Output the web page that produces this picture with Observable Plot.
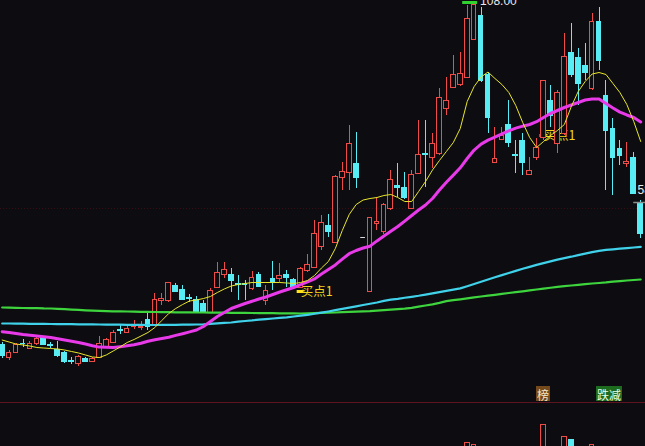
<!DOCTYPE html>
<html>
<head>
<meta charset="utf-8">
<script src="https://cdn.jsdelivr.net/npm/d3@7"></script>
<script src="https://cdn.jsdelivr.net/npm/@observablehq/plot@0.6"></script>
<style>
  html, body { margin: 0; padding: 0; background: #0d0d11; overflow: hidden; }
  #wrap { position: relative; width: 645px; height: 446px; overflow: hidden; background: #0d0d11; }
  #wrap svg { display: block; }
  #vol { border-top: 1px solid #5c1420; }
  .tag { position: absolute; top: 386px; height: 15px; line-height: 15px; padding: 0 1px;
         font: 12px "Noto Sans CJK SC", sans-serif; white-space: nowrap; }
</style>
</head>
<body>
<div id="wrap"></div>
<script>
// Daily OHLC prices, one entry per trading day (oldest first)
const opens = [22.5, 19.25, 20.5, 22.75, 21.5, 22.75, 24.25, 22.38, 21.25, 20.5, 18.38, 17.75, 19.0, 18.25, 19.25, 21.75, 23.0, 26.12, 25.5, 26.88, 26.75, 28.75, 27.25, 33.5, 33.5, 37.25, 36.25, 34.12, 33.75, 32.75, 30.5, 36.75, 40.0, 40.0, 37.62, 37.75, 36.5, 40.0, 33.5, 39.0, 39.0, 40.0, 38.75, 36.75, 41.0, 41.75, 47.0, 52.25, 48.0, 64.25, 65.5, 67.75, 49.25, 35.75, 52.75, 50.75, 56.5, 62.25, 61.75, 56.5, 65.25, 70.25, 69.25, 70.25, 81.5, 86.75, 87.5, 89.25, 98.75, 104.75, 90.0, 68.0, 73.75, 77.5, 69.88, 73.5, 65.0, 69.25, 74.25, 83.5, 72.75, 75.25, 95.5, 94.25, 92.25, 86.5, 103.25, 84.75, 76.5, 71.5, 67.75, 69.25, 58.0];
const closes = [19.75, 20.5, 22.5, 22.62, 22.75, 24.0, 22.5, 22.12, 19.75, 18.25, 18.12, 19.5, 18.25, 19.0, 22.75, 23.75, 25.5, 25.88, 26.5, 27.12, 27.0, 27.0, 33.75, 34.0, 38.0, 35.75, 33.75, 33.88, 30.75, 30.75, 36.0, 40.5, 41.25, 38.5, 37.38, 37.5, 39.25, 37.0, 36.0, 38.25, 39.75, 39.25, 37.0, 41.5, 42.5, 50.25, 53.0, 50.75, 64.5, 65.75, 72.75, 64.25, 49.25, 54.25, 53.25, 57.5, 63.75, 61.75, 59.25, 65.0, 70.0, 70.0, 72.75, 84.25, 83.5, 90.0, 90.25, 104.0, 107.5, 88.5, 79.25, 69.0, 74.75, 73.0, 69.62, 68.0, 66.0, 71.75, 88.5, 79.75, 85.5, 94.5, 90.0, 87.75, 90.5, 103.25, 93.5, 76.0, 69.25, 69.75, 68.25, 60.25, 50.25];
const highs = [23.0, 21.0, 22.75, 23.75, 23.25, 24.25, 24.5, 23.0, 23.25, 20.75, 19.25, 19.75, 19.25, 19.25, 24.5, 24.0, 26.0, 27.25, 27.0, 28.5, 28.25, 30.25, 35.25, 35.25, 38.0, 37.75, 37.25, 35.0, 34.5, 33.5, 36.5, 43.0, 43.0, 41.5, 39.75, 38.5, 40.75, 40.5, 37.25, 43.25, 42.75, 41.0, 39.0, 41.75, 45.0, 53.5, 54.75, 55.0, 64.75, 68.0, 77.25, 75.5, 49.25, 54.25, 59.25, 57.75, 66.0, 67.75, 65.5, 66.0, 78.5, 78.5, 75.25, 86.5, 89.25, 94.75, 95.5, 107.25, 108.0, 106.75, 90.5, 76.75, 76.75, 83.5, 73.5, 75.25, 69.25, 74.0, 88.5, 87.25, 86.0, 100.25, 102.75, 96.5, 97.75, 105.25, 106.75, 88.5, 79.0, 73.5, 73.0, 70.5, 58.5];
const lows = [19.0, 18.5, 20.25, 21.75, 21.25, 22.25, 22.25, 21.5, 19.25, 17.75, 17.5, 17.0, 18.0, 18.0, 19.0, 21.5, 22.75, 25.0, 25.25, 26.25, 26.0, 26.0, 27.0, 32.25, 33.0, 35.5, 33.5, 33.0, 30.5, 30.25, 30.25, 36.5, 39.0, 35.5, 33.5, 33.5, 36.0, 36.75, 32.25, 36.0, 38.0, 36.75, 36.75, 36.5, 40.5, 41.5, 46.0, 49.25, 47.75, 61.0, 61.0, 61.5, 49.25, 35.75, 51.0, 50.0, 56.0, 59.25, 58.75, 56.25, 65.0, 61.75, 66.5, 69.75, 79.75, 86.5, 87.0, 89.0, 98.5, 88.0, 75.25, 68.0, 73.5, 71.75, 65.25, 64.75, 64.75, 68.5, 73.5, 76.75, 70.25, 74.75, 89.25, 82.25, 88.5, 86.0, 91.0, 61.0, 59.75, 67.25, 66.75, 60.25, 49.0];

// Moving averages (short, medium, long, longest), one value per day
const maShort = [23.62, 23.12, 22.62, 22.38, 22.12, 21.75, 21.62, 21.5, 21.38, 21.12, 20.75, 20.38, 19.88, 19.38, 19.25, 19.88, 20.88, 21.88, 23.0, 23.75, 24.62, 25.5, 26.75, 28.5, 30.25, 31.5, 32.5, 33.38, 33.62, 34.0, 34.5, 35.5, 36.38, 37.12, 37.5, 37.75, 38.0, 38.0, 38.0, 38.0, 38.0, 37.88, 37.75, 38.0, 38.5, 39.75, 41.62, 43.25, 46.5, 51.0, 55.0, 57.5, 58.62, 59.0, 59.25, 59.75, 60.0, 59.25, 58.25, 58.25, 60.75, 63.25, 66.12, 68.5, 70.75, 73.0, 76.5, 83.25, 87.0, 89.38, 90.62, 89.0, 87.5, 85.5, 82.25, 78.0, 74.25, 71.75, 73.25, 74.75, 76.0, 77.5, 82.0, 85.75, 88.25, 90.12, 90.5, 90.0, 87.75, 85.5, 82.5, 78.25, 73.25];
const maMid = [25.7, 25.5, 25.25, 25.0, 24.82, 24.65, 24.45, 24.25, 23.92, 23.62, 23.32, 23.0, 22.62, 22.2, 21.85, 21.8, 21.75, 21.95, 22.18, 22.42, 22.82, 23.3, 23.7, 24.0, 24.32, 24.78, 25.2, 25.65, 26.12, 27.0, 28.25, 29.5, 30.5, 31.5, 32.12, 32.75, 33.3, 33.88, 34.38, 35.0, 35.62, 36.18, 36.75, 37.45, 38.15, 38.9, 40.12, 41.25, 42.4, 43.85, 45.2, 46.0, 46.62, 47.08, 48.4, 49.6, 50.8, 52.0, 53.35, 54.75, 56.12, 57.38, 59.0, 61.12, 63.05, 64.85, 66.68, 69.0, 71.12, 72.6, 73.58, 74.35, 75.15, 75.88, 76.58, 77.08, 77.5, 78.2, 79.25, 80.25, 81.0, 81.75, 82.38, 83.0, 83.62, 83.88, 83.88, 82.75, 81.62, 80.6, 79.88, 79.25, 78.12];
const maLong = [27.75, 27.75, 27.72, 27.7, 27.68, 27.68, 27.65, 27.62, 27.6, 27.6, 27.58, 27.55, 27.55, 27.52, 27.5, 27.48, 27.48, 27.45, 27.42, 27.42, 27.4, 27.38, 27.38, 27.4, 27.42, 27.42, 27.45, 27.48, 27.5, 27.55, 27.68, 27.78, 27.9, 28.0, 28.2, 28.38, 28.52, 28.7, 28.85, 29.0, 29.15, 29.3, 29.5, 29.7, 29.9, 30.18, 30.45, 30.75, 31.08, 31.4, 31.72, 32.05, 32.38, 32.68, 33.0, 33.4, 33.7, 33.92, 34.18, 34.42, 34.68, 34.98, 35.28, 35.58, 35.9, 36.2, 36.52, 37.05, 37.62, 38.18, 38.75, 39.3, 39.85, 40.38, 40.9, 41.42, 41.92, 42.42, 42.85, 43.28, 43.72, 44.1, 44.45, 44.85, 45.22, 45.6, 45.92, 46.15, 46.3, 46.45, 46.6, 46.75, 46.9];
const maLongest = [31.75, 31.72, 31.68, 31.62, 31.6, 31.58, 31.52, 31.5, 31.4, 31.32, 31.22, 31.15, 31.05, 30.98, 30.9, 30.85, 30.8, 30.78, 30.75, 30.7, 30.68, 30.65, 30.62, 30.6, 30.58, 30.55, 30.55, 30.52, 30.5, 30.5, 30.48, 30.45, 30.45, 30.42, 30.4, 30.4, 30.38, 30.35, 30.32, 30.32, 30.3, 30.28, 30.28, 30.25, 30.3, 30.35, 30.4, 30.45, 30.5, 30.58, 30.65, 30.7, 30.78, 30.85, 30.98, 31.08, 31.2, 31.32, 31.45, 31.65, 31.95, 32.25, 32.55, 32.9, 33.35, 33.58, 33.8, 34.05, 34.3, 34.5, 34.72, 34.92, 35.15, 35.38, 35.58, 35.8, 36.02, 36.25, 36.48, 36.68, 36.9, 37.08, 37.25, 37.4, 37.58, 37.75, 37.88, 38.02, 38.2, 38.35, 38.5, 38.62, 38.75];

// Buy signals: day index and signal price
const buyDays = [43, 78];
const buyPrices = [35.75, 74.75];
const buyLabel = "买点1";

// Volume (10k lots) for the heaviest days
const volDays = [67, 68, 78, 81, 82, 85];
const volValues = [72.1, 70.7, 85.0, 76.4, 73.6, 70.7];

// Event tags shown along the bottom of the price panel
const eventDays = [78, 87.5];
const eventTexts = ["榜", "跌减"];
const eventFills = ["#74491b", "#1d6b1f"];
const eventInks = ["#f6e7c6", "#e6ffe4"];

const BG = "#0d0d11", RED = "#ee4b49", CYAN = "#58edf4", FLAT = "#dcdcdc";
const N = opens.length;
const candles = d3.range(N).map(i => ({i, open: opens[i], close: closes[i], high: highs[i], low: lows[i]}));
const tone = d => d.close > d.open ? RED : d.close < d.open ? CYAN : FLAT;
const bodies = candles.filter(d => d.open !== d.close);
const flats = candles.filter(d => d.open === d.close);
const buys = buyDays.map((i, k) => ({i, price: buyPrices[k]}));
const hi = d3.maxIndex(highs);
const last = N - 1;
const HALF = 0.34;
const xScale = {domain: [0, N - 1], range: [1.7, 640.2], axis: null};

const line = (values, stroke, strokeWidth) =>
  Plot.line(values, {x: (d, i) => i, y: d => d, stroke, strokeWidth, curve: "linear"});

const price = Plot.plot({
  width: 645, height: 402, margin: 0,
  style: {background: "transparent"},
  x: xScale,
  y: {domain: [8, 108.5], range: [402, 0], axis: null},
  color: {type: "identity"},
  marks: [
    Plot.ruleY([56.5], {stroke: "#3a0d14", strokeDasharray: "1,2"}),
    // buy signal markers sit underneath the candles
    Plot.ruleY(buys, {y: "price", x1: d => d.i - 0.5, x2: d => d.i + 0.5, stroke: "#ffe31a", strokeWidth: 3}),
    Plot.text(buys, {x: "i", y: "price", text: () => buyLabel, textAnchor: "start", lineAnchor: "middle",
      fill: "#f2d51c", fontSize: 12.5, fontFamily: "Noto Sans CJK SC"}),
    // wicks, then bodies (up days hollow, down days filled)
    Plot.ruleX(candles, {x: "i", y1: "low", y2: "high", stroke: tone, strokeWidth: 1, shapeRendering: "crispEdges"}),
    Plot.rect(bodies, {x1: d => d.i - HALF, x2: d => d.i + HALF, y1: "open", y2: "close",
      fill: d => d.close > d.open ? BG : CYAN, stroke: tone, strokeWidth: 1, shapeRendering: "crispEdges"}),
    Plot.ruleY(flats, {y: "open", x1: d => d.i - HALF, x2: d => d.i + HALF, stroke: FLAT, strokeWidth: 1}),
    // moving averages
    line(maLongest, "#3ed43e", 2.2),
    line(maLong, "#40d2ea", 2.2),
    line(maMid, "#e83ae8", 3),
    line(maShort, "#e8e62c", 1),
    // highest price marker
    Plot.ruleY([highs[hi]], {x1: hi - 1.65, x2: hi + 0.5, stroke: "#2fd22f", strokeWidth: 3}),
    Plot.text([hi], {x: d => d + 1, y: highs[hi], text: d => highs[d].toFixed(2), textAnchor: "start",
      lineAnchor: "middle", fill: "#e8e8e8", fontSize: 12, fontFamily: "Liberation Sans", dx: -1, dy: -1.5}),
    // latest open price tag
    Plot.ruleY([opens[last]], {x1: last - 1, x2: last + 1, stroke: "#8c8c8c", strokeWidth: 1.5}),
    Plot.text([last], {x: d => d - 0.45, y: opens[last], text: d => opens[d].toFixed(2), textAnchor: "start",
      lineAnchor: "middle", dy: -12, fill: "#ececec", fontSize: 12, fontFamily: "Liberation Sans"})
  ]
});

const volRows = volDays.map((i, k) => ({i, v: volValues[k], up: closes[i] > opens[i]}));
const volume = Plot.plot({
  width: 645, height: 140, margin: 0,
  style: {background: "transparent"},
  x: xScale,
  y: {domain: [0, 100], range: [140, 0], axis: null},
  color: {type: "identity"},
  marks: [
    Plot.rect(volRows, {x1: d => d.i - HALF, x2: d => d.i + HALF, y1: 0, y2: "v",
      fill: d => d.up ? BG : CYAN, stroke: d => d.up ? RED : CYAN, strokeWidth: 1, shapeRendering: "crispEdges"})
  ]
});
volume.id = "vol";

const wrap = document.getElementById("wrap");
wrap.appendChild(price);
wrap.appendChild(volume);

// event tags, centred on their day through the chart's x scale
const sx = price.scale("x");
eventDays.forEach((day, k) => {
  const tag = document.createElement("div");
  tag.className = "tag";
  tag.textContent = eventTexts[k];
  tag.style.background = eventFills[k];
  tag.style.color = eventInks[k];
  wrap.appendChild(tag);
  tag.style.left = (sx.apply(day) - tag.offsetWidth / 2) + "px";
});
</script>
</body>
</html>
